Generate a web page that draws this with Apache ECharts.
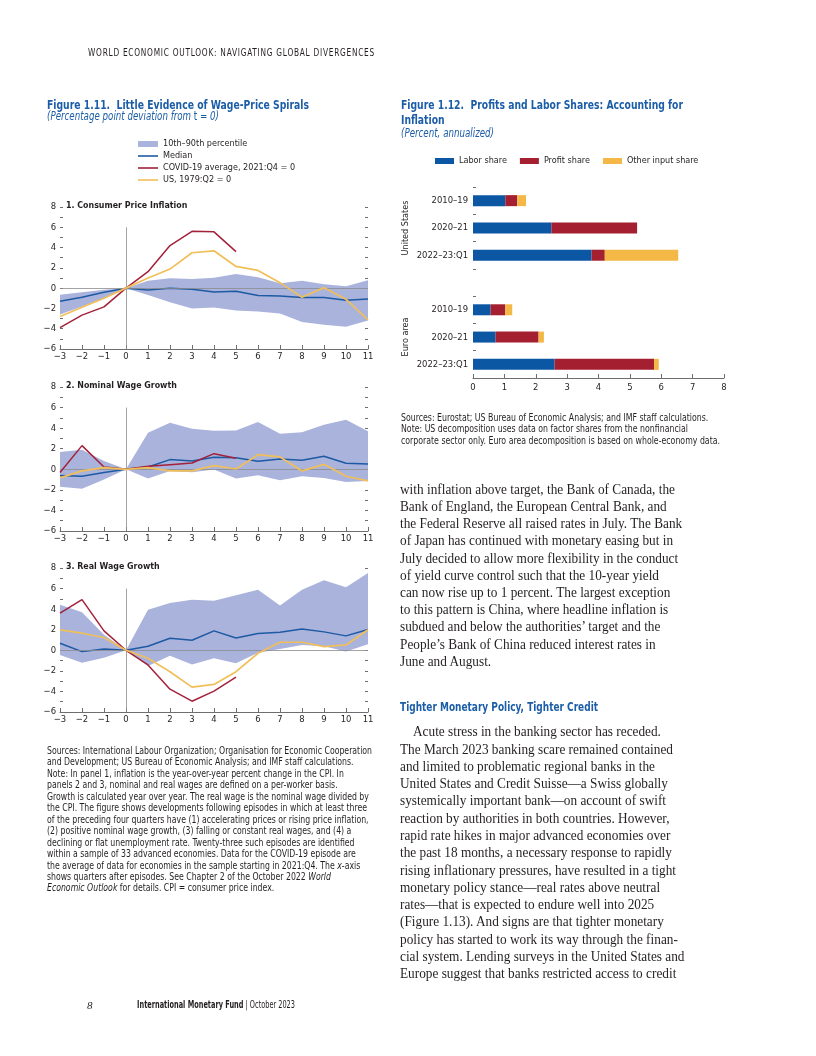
<!DOCTYPE html>
<html>
<head>
<meta charset="utf-8">
<title>WEO Figures 1.11 and 1.12</title>
<script src="https://cdn.jsdelivr.net/npm/echarts@6.0.0/dist/echarts.min.js"></script>
<style>
html,body{margin:0;padding:0;background:#fff;}
#page{position:relative;width:816px;height:1056px;overflow:hidden;background:#fff;}
#chart{position:absolute;left:0;top:0;width:816px;height:1056px;}
#txt{position:absolute;left:0;top:0;width:816px;height:1056px;pointer-events:none;}
.ln{position:absolute;white-space:nowrap;transform-origin:0 50%;color:#231f20;}
.cond{font-family:"Liberation Sans Narrow","Arial Narrow","DejaVu Sans Condensed","Liberation Sans",sans-serif;}
.serif{font-family:"Liberation Serif","DejaVu Serif",serif;}
.blue{color:#1c5da8;}
.b{font-weight:bold;}
.it{font-style:italic;}
.up{font-style:normal;}
</style>
</head>
<body>
<div id="page"><div id="chart"></div><div id="txt"></div></div>
<script>
// ---------------- DATA ----------------
const quarters = [-3, -2, -1, 0, 1, 2, 3, 4, 5, 6, 7, 8, 9, 10, 11];
const yTickValues = [-6, -4, -2, 0, 2, 4, 6, 8];

// Panel 1: Consumer price inflation
const cpiP90    = [-0.65, -0.4, -0.15, 0, 0.74, 0.97, 0.9, 1.03, 1.4, 1.07, 0.48, 0.74, 0.38, 0.18, 0.77];
const cpiP10    = [-2.6, -1.8, -1.0, 0, -0.67, -1.4, -2.0, -1.9, -2.2, -2.3, -2.5, -3.35, -3.6, -3.8, -3.2];
const cpiMedian = [-1.29, -0.9, -0.4, 0, -0.18, 0.0, -0.1, -0.37, -0.3, -0.73, -0.77, -0.93, -0.93, -1.19, -1.06];
const cpiCovid  = [-3.9, -2.66, -1.85, 0, 1.62, 4.2, 5.6, 5.55, 3.6];
const cpiUS     = [-2.8, -1.88, -1.0, 0, 1.0, 1.88, 3.49, 3.68, 2.14, 1.75, 0.54, -0.9, 0.05, -1.1, -3.12];

// Panel 2: Nominal wage growth
const nomP90    = [1.68, 1.9, 0.8, 0, 3.56, 4.53, 3.94, 3.75, 3.78, 4.59, 3.46, 3.59, 4.33, 4.82, 3.69];
const nomP10    = [-1.71, -1.9, -1.0, 0, -0.9, -0.16, -0.3, -0.03, -0.9, -0.58, -1.07, -0.68, -0.84, -1.23, -1.13];
const nomMedian = [-0.61, -0.68, -0.32, 0, 0.23, 0.94, 0.81, 1.16, 1.13, 0.78, 1.0, 0.87, 1.26, 0.58, 0.52];
const nomCovid  = [-0.32, 2.3, 0.23, 0, 0.29, 0.45, 0.61, 1.52, 1.07];
const nomUS     = [-0.84, -0.16, 0.16, 0, 0.16, -0.16, -0.16, 0.36, 0.03, 1.42, 1.2, -0.16, 0.48, -0.68, -1.13];

// Panel 3: Real wage growth
const realP90    = [4.43, 3.71, 1.5, 0, 3.94, 4.59, 4.92, 4.82, 5.34, 5.89, 4.36, 5.89, 6.8, 6.12, 7.52];
const realP10    = [-0.46, -1.2, -0.72, 0, -1.53, -0.52, -1.37, -0.78, -1.27, -0.23, 0.13, 0.52, 0.39, -0.13, 0.59];
const realMedian = [0.68, -0.13, 0.13, 0, 0.39, 1.17, 0.98, 1.89, 1.2, 1.63, 1.76, 2.08, 1.79, 1.4, 2.02];
const realCovid  = [3.61, 4.92, 1.89, 0, -1.43, -3.78, -4.95, -3.97, -2.6];
const realUS     = [1.99, 1.66, 1.24, 0, -0.78, -2.08, -3.58, -3.32, -2.08, -0.29, 0.78, 0.78, 0.36, 0.52, 1.99];

const panelTitles = ['1. Consumer Price Inflation', '2. Nominal Wage Growth', '3. Real Wage Growth'];
const legend111 = ['10th–90th percentile', 'Median', 'COVID-19 average, 2021:Q4 = 0', 'US, 1979:Q2 = 0'];

// Figure 1.12: shares (percent, annualized)
const shareCategories = ['2010–19', '2020–21', '2022–23:Q1', '', '2010–19', '2020–21', '2022–23:Q1'];
const laborShare  = [1.03, 2.50, 3.78, null, 0.56, 0.72, 2.60];
const profitShare = [0.38, 2.73, 0.42, null, 0.47, 1.37, 3.17];
const otherShare  = [0.28, 0.00, 2.34, null, 0.22, 0.17, 0.15];
const shareNames  = ['Labor share', 'Profit share', 'Other input share'];
const regionLabels = ['United States', 'Euro area'];
const shareTicks = [0, 1, 2, 3, 4, 5, 6, 7, 8];

// ---------------- STYLE ----------------
function hasFont(f) {
  const c = document.createElement('canvas').getContext('2d');
  const s = 'WwMmIil1234567890abcdefghQ';
  c.font = '40px monospace';
  const a = c.measureText(s).width;
  c.font = '40px "' + f + '", monospace';
  return Math.abs(c.measureText(s).width - a) > 0.5;
}
const NARROW = hasFont('Liberation Sans Narrow');
const FONT = NARROW ? '"Liberation Sans Narrow"' : (hasFont('DejaVu Sans Condensed') ? '"DejaVu Sans Condensed"' : 'Roboto');
const FS = NARROW ? 10.5 : 9.4;
const FS_T = NARROW ? 10.5 : 8.8;
const FS_L = NARROW ? 10.5 : 9.0;
const INK = '#231f20';
const AXIS = '#6d6e71';
const BAND = '#a9b3dc', MEDIAN = '#1e5aa3', COVID = '#a3213a', USC = '#f0bf5a';
const LABOR = '#0b57a4', PROFIT = '#a41f2f', OTHER = '#f3b845';

function fmtNum(v) { return (v < 0 ? '\u2212' : '') + Math.abs(v); }

// ---------------- CHART ----------------
const grids = [
  { left: 60, top: 207, width: 308, height: 142 },
  { left: 60, top: 387, width: 308, height: 144 },
  { left: 60, top: 568, width: 308, height: 144 },
  { left: 473, top: 187, width: 251, height: 191 }
].map(g => Object.assign({ containLabel: false, outerBoundsMode: 'none' }, g));

const panels = [
  { p10: cpiP10, p90: cpiP90, median: cpiMedian, covid: cpiCovid, us: cpiUS },
  { p10: nomP10, p90: nomP90, median: nomMedian, covid: nomCovid, us: nomUS },
  { p10: realP10, p90: realP90, median: realMedian, covid: realCovid, us: realUS }
];

const xAxes = [], yAxes = [], series = [], titles = [];
const labelStyle = { fontSize: FS, fontFamily: FONT, color: INK };
const legendText = { fontSize: FS_L, fontFamily: FONT, color: INK, lineHeight: 12 };
const qLabels = quarters.map(fmtNum);

panels.forEach((p, i) => {
  xAxes.push({
    gridIndex: i, type: 'category', data: qLabels, boundaryGap: false,
    axisLine: { show: true, onZero: false, lineStyle: { color: AXIS, width: 1 } },
    axisTick: { show: true, inside: true, length: 4, interval: 0, lineStyle: { color: AXIS } },
    axisLabel: Object.assign({ margin: 3, interval: 0 }, labelStyle),
    splitLine: { show: false }
  });
  const yBase = {
    gridIndex: i, type: 'value', min: -6, max: 8, interval: 1,
    axisLine: { show: false, onZero: false },
    axisTick: { show: true, inside: true, length: 3, lineStyle: { color: AXIS } },
    splitLine: { show: false }
  };
  yAxes.push(Object.assign({}, yBase, {
    position: 'left',
    axisLabel: Object.assign({ margin: 4, formatter: v => yTickValues.indexOf(v) >= 0 ? fmtNum(v) : '' }, labelStyle)
  }));
  yAxes.push(Object.assign({}, yBase, { position: 'right', axisLabel: { show: false } }));

  const yi = 2 * i;
  series.push({
    type: 'line', xAxisIndex: i, yAxisIndex: yi, stack: 'band' + i, stackStrategy: 'all',
    data: p.p10, symbol: 'none', silent: true,
    lineStyle: { width: 0, opacity: 0 }, z: 1
  });
  series.push({
    type: 'line', name: legend111[0], xAxisIndex: i, yAxisIndex: yi, stack: 'band' + i, stackStrategy: 'all',
    data: p.p90.map((v, k) => +(v - p.p10[k]).toFixed(3)), symbol: 'none', silent: true,
    lineStyle: { width: 0, opacity: 0 }, areaStyle: { color: BAND, opacity: 1 },
    itemStyle: { color: BAND }, color: BAND, z: 1
  });
  series.push({
    type: 'line', name: legend111[1], xAxisIndex: i, yAxisIndex: yi,
    data: p.median, symbol: 'none',
    lineStyle: { color: MEDIAN, width: 1.5 }, itemStyle: { color: MEDIAN }, color: MEDIAN, z: 4,
    markLine: {
      silent: true, symbol: ['none', 'none'], label: { show: false }, animation: false,
      lineStyle: { color: '#8c8c8c', width: 0.8, type: 'solid' },
      data: [{ yAxis: 0 }, [{ coord: [fmtNum(0), -6] }, { coord: [fmtNum(0), 6] }]]
    }
  });
  series.push({
    type: 'line', name: legend111[2], xAxisIndex: i, yAxisIndex: yi,
    data: p.covid, symbol: 'none',
    lineStyle: { color: COVID, width: 1.5 }, itemStyle: { color: COVID }, color: COVID, z: 5
  });
  series.push({
    type: 'line', name: legend111[3], xAxisIndex: i, yAxisIndex: yi,
    data: p.us, symbol: 'none',
    lineStyle: { color: USC, width: 1.7 }, itemStyle: { color: USC }, color: USC, z: 5
  });
  titles.push({
    text: panelTitles[i], left: 66, top: grids[i].top - 6, padding: 0,
    textStyle: { fontSize: FS_T, fontWeight: 'bold', fontFamily: FONT, color: INK }
  });
});

// Figure 1.12 axes
xAxes.push({
  gridIndex: 3, type: 'value', min: shareTicks[0], max: shareTicks[shareTicks.length - 1], interval: 1,
  axisLine: { show: true, onZero: false, lineStyle: { color: AXIS, width: 1 } },
  axisTick: { show: true, inside: true, length: 4, lineStyle: { color: AXIS } },
  axisLabel: Object.assign({ margin: 5 }, labelStyle),
  splitLine: { show: false }
});
yAxes.push({
  gridIndex: 3, type: 'category', inverse: true, data: shareCategories,
  axisLine: { show: false, onZero: false },
  axisTick: { show: true, inside: true, length: 3, interval: 0, alignWithLabel: false, lineStyle: { color: AXIS } },
  axisLabel: Object.assign({ margin: 5, interval: 0 }, labelStyle),
  splitLine: { show: false }
});
[[laborShare, LABOR], [profitShare, PROFIT], [otherShare, OTHER]].forEach((s, k) => {
  series.push({
    type: 'bar', name: shareNames[k], xAxisIndex: 3, yAxisIndex: 6, stack: 'share',
    barWidth: 11, data: s[0], itemStyle: { color: s[1] }, color: s[1]
  });
});

const LINE_ICON = 'path://M0,0H20V1.6H0Z';
const option = {
  animation: false,
  backgroundColor: 'transparent',
  textStyle: { fontFamily: FONT },
  grid: grids,
  xAxis: xAxes,
  yAxis: yAxes,
  series: series,
  title: titles,
  legend: [
    {
      orient: 'vertical', left: 138, top: 138, padding: 0, itemGap: 0,
      itemWidth: 20, itemHeight: 6, selectedMode: false, symbolKeepAspect: true,
      textStyle: legendText,
      data: [
        { name: legend111[0], icon: 'rect', itemStyle: { color: BAND } },
        { name: legend111[1], icon: LINE_ICON, itemStyle: { color: MEDIAN } },
        { name: legend111[2], icon: LINE_ICON, itemStyle: { color: COVID } },
        { name: legend111[3], icon: LINE_ICON, itemStyle: { color: USC } }
      ]
    },
    {
      orient: 'horizontal', left: 435, top: 155, padding: 0, itemGap: 13,
      itemWidth: 19, itemHeight: 6, icon: 'rect', selectedMode: false,
      textStyle: legendText,
      data: shareNames
    }
  ],
  graphic: [
    { type: 'text', x: 406, y: 228, rotation: Math.PI / 2,
      style: { text: regionLabels[0], fontSize: FS_L, fontFamily: FONT, fill: INK, align: 'center', verticalAlign: 'middle' } },
    { type: 'text', x: 406, y: 337, rotation: Math.PI / 2,
      style: { text: regionLabels[1], fontSize: FS_L, fontFamily: FONT, fill: INK, align: 'center', verticalAlign: 'middle' } }
  ]
};

const chart = echarts.init(document.getElementById('chart'), null, { renderer: 'canvas', width: 816, height: 1056 });
chart.setOption(option);

// ---------------- PAGE TEXT ----------------
const txt = document.getElementById('txt');
const allLines = [];
function addLine(html, x, cy, cls, fs, group, refW) {
  const d = document.createElement('div');
  d.className = 'ln ' + cls;
  d.innerHTML = html;
  d.style.left = x + 'px';
  d.style.fontSize = fs + 'px';
  d.style.lineHeight = fs + 'px';
  d.style.top = (cy - fs / 2) + 'px';
  d.dataset.g = group;
  if (refW) d.dataset.w = refW;
  txt.appendChild(d);
  allLines.push(d);
  return d;
}
function addBlock(lines, x, cy0, dy, cls, fs, group, refIdx, refW, indent) {
  lines.forEach((t, i) => addLine(t, x + (i === 0 && indent ? indent : 0), cy0 + dy * i, cls, fs, group, i === refIdx ? refW : null));
}

addLine('WORLD ECONOMIC OUTLOOK: NAVIGATING GLOBAL DIVERGENCES', 88, 52.7, 'cond', 10, 'hdr', 287).style.letterSpacing = '0.9px';

addLine('Figure 1.11.&nbsp; Little Evidence of Wage-Price Spirals', 47, 104, 'cond b blue', 13, 't11', 262);
addLine('(Percentage point deviation from <span class="up">t</span> = 0)', 47, 116.7, 'cond it blue', 11.5, 's11', 172);

addLine('Figure 1.12.&nbsp; Profits and Labor Shares: Accounting for', 401, 104, 'cond b blue', 13, 't12', 282);
addLine('Inflation', 401, 119.3, 'cond b blue', 13, 't12');
addLine('(Percent, annualized)', 401, 133.3, 'cond it blue', 11.5, 's12', 93);

const notes111 = [
  'Sources: International Labour Organization; Organisation for Economic Cooperation',
  'and Development; US Bureau of Economic Analysis; and IMF staff calculations.',
  'Note: In panel 1, inflation is the year-over-year percent change in the CPI. In',
  'panels 2 and 3, nominal and real wages are defined on a per-worker basis.',
  'Growth is calculated year over year. The real wage is the nominal wage divided by',
  'the CPI. The figure shows developments following episodes in which at least three',
  'of the preceding four quarters have (1) accelerating prices or rising price inflation,',
  '(2) positive nominal wage growth, (3) falling or constant real wages, and (4) a',
  'declining or flat unemployment rate. Twenty-three such episodes are identified',
  'within a sample of 33 advanced economies. Data for the COVID-19 episode are',
  'the average of data for economies in the sample starting in 2021:Q4. The <i>x</i>-axis',
  'shows quarters after episodes. See Chapter 2 of the October 2022 <i>World</i>',
  '<i>Economic Outlook</i> for details. CPI = consumer price index.'
];
addBlock(notes111, 47, 751, 11.45, 'cond', 10, 'n111', 0, 325);

const notes112 = [
  'Sources: Eurostat; US Bureau of Economic Analysis; and IMF staff calculations.',
  'Note: US decomposition uses data on factor shares from the nonfinancial',
  'corporate sector only. Euro area decomposition is based on whole-economy data.'
];
addBlock(notes112, 401, 417.7, 11.5, 'cond', 10, 'n112', 2, 319);

const para1 = [
  'with inflation above target, the Bank of Canada, the',
  'Bank of England, the European Central Bank, and',
  'the Federal Reserve all raised rates in July. The Bank',
  'of Japan has continued with monetary easing but in',
  'July decided to allow more flexibility in the conduct',
  'of yield curve control such that the 10-year yield',
  'can now rise up to 1 percent. The largest exception',
  'to this pattern is China, where headline inflation is',
  'subdued and below the authorities\u2019 target and the',
  'People\u2019s Bank of China reduced interest rates in',
  'June and August.'
];
addBlock(para1, 400, 489, 17.2, 'serif', 14.5, 'body', 0, 275);

addLine('Tighter Monetary Policy, Tighter Credit', 400, 706.7, 'cond b blue', 13, 'h2', 198);

const para2 = [
  'Acute stress in the banking sector has receded.',
  'The March 2023 banking scare remained contained',
  'and limited to problematic regional banks in the',
  'United States and Credit Suisse\u2014a Swiss globally',
  'systemically important bank\u2014on account of swift',
  'reaction by authorities in both countries. However,',
  'rapid rate hikes in major advanced economies over',
  'the past 18 months, a necessary response to rapidly',
  'rising inflationary pressures, have resulted in a tight',
  'monetary policy stance\u2014real rates above neutral',
  'rates\u2014that is expected to endure well into 2025',
  '(Figure 1.13). And signs are that tighter monetary',
  'policy has started to work its way through the finan-',
  'cial system. Lending surveys in the United States and',
  'Europe suggest that banks restricted access to credit'
];
addBlock(para2, 400, 731.7, 17.26, 'serif', 14.5, 'body', -1, null, 13);

addLine('8', 87, 1005, 'serif it', 11, 'pg');
addLine('<b>International Monetary Fund</b> | October 2023', 137, 1004.5, 'cond', 11, 'ftr', 158);

function fitAll() {
  const groups = {};
  allLines.forEach(e => { (groups[e.dataset.g] = groups[e.dataset.g] || []).push(e); });
  Object.values(groups).forEach(arr => {
    const ref = arr.find(e => e.dataset.w);
    if (!ref) return;
    ref.style.transform = 'none';
    const s = parseFloat(ref.dataset.w) / ref.getBoundingClientRect().width;
    arr.forEach(e => { e.style.transform = 'scaleX(' + s.toFixed(4) + ')'; });
  });
}
fitAll();
if (document.fonts && document.fonts.ready) document.fonts.ready.then(fitAll);
</script>
</body>
</html>
